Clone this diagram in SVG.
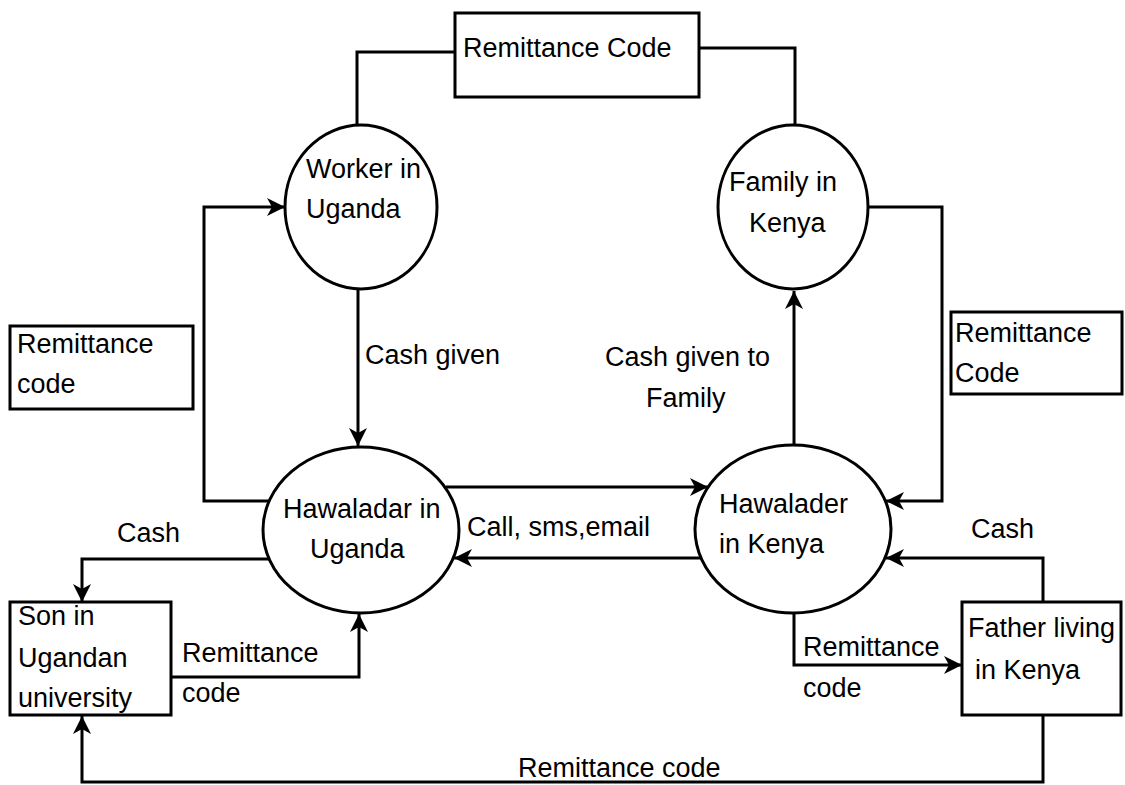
<svg xmlns="http://www.w3.org/2000/svg" width="1125" height="785" viewBox="0 0 1125 785">
<style>
.n{fill:#fff;stroke:#000;stroke-width:3}
.c{fill:none;stroke:#000;stroke-width:3;stroke-linejoin:miter}
.a{marker-end:url(#ah)}
text{font-family:"Liberation Sans",Arial,sans-serif;font-size:27px;fill:#000}
</style>
<defs>
<marker id="ah" markerUnits="userSpaceOnUse" viewBox="0 0 18 18" refX="18" refY="9" markerWidth="18" markerHeight="18" orient="auto">
<path d="M0,0 L18,9 L0,18 L5,9 Z" fill="#000"/>
</marker>
</defs>
<rect width="1125" height="785" fill="#fff"/>
<g id="connectors">
<path class="c" d="M357,125 V52 H455"/>
<path class="c" d="M699,48 H795 V125"/>
<path class="c a" d="M358,290 V446"/>
<path class="c a" d="M794,445 V291"/>
<path class="c a" d="M269,501 H204 V207 H285"/>
<path class="c a" d="M868,207 H942 V501 H886"/>
<path class="c a" d="M446,487 H708"/>
<path class="c a" d="M701,558 H454"/>
<path class="c a" d="M269,559 H82 V602"/>
<path class="c a" d="M171,677 H359 V614"/>
<path class="c a" d="M794,613 V665 H962"/>
<path class="c a" d="M1043,602 V558 H886"/>
<path class="c a" d="M1043,715 V782 H82 V716"/>
<text x="365" y="364">Cash given</text>
<text x="605" y="366">Cash given to</text>
<text x="646" y="407">Family</text>
<text x="467" y="536">Call, sms,email</text>
<text x="117" y="542">Cash</text>
<text x="182" y="662">Remittance</text>
<text x="182" y="702">code</text>
<text x="971" y="538">Cash</text>
<text x="803" y="656">Remittance</text>
<text x="803" y="697">code</text>
<text x="518" y="777">Remittance code</text>
</g>
<g id="remit-top">
<rect class="n" x="455" y="13" width="244" height="84"/>
<text x="463" y="57">Remittance Code</text>
</g>
<g id="remit-left">
<rect class="n" x="10" y="326" width="183" height="83"/>
<text x="17" y="353">Remittance</text>
<text x="17" y="393">code</text>
</g>
<g id="remit-right">
<rect class="n" x="951" y="312" width="171" height="82"/>
<text x="955" y="342">Remittance</text>
<text x="955" y="382">Code</text>
</g>
<g id="worker-uganda">
<ellipse class="n" cx="361" cy="207" rx="76" ry="82"/>
<text x="306" y="178">Worker in</text>
<text x="306" y="218">Uganda</text>
</g>
<g id="family-kenya">
<ellipse class="n" cx="793" cy="207" rx="75" ry="82"/>
<text x="729" y="191">Family in</text>
<text x="749" y="232">Kenya</text>
</g>
<g id="hawaladar-uganda">
<ellipse class="n" cx="361" cy="530" rx="98" ry="83"/>
<text x="283" y="518">Hawaladar in</text>
<text x="310" y="558">Uganda</text>
</g>
<g id="hawalader-kenya">
<ellipse class="n" cx="793" cy="529" rx="98" ry="84"/>
<text x="719" y="513">Hawalader</text>
<text x="719" y="553">in Kenya</text>
</g>
<g id="son-uganda">
<rect class="n" x="10" y="602" width="161" height="113"/>
<text x="18" y="625">Son in</text>
<text x="18" y="667">Ugandan</text>
<text x="18" y="707">university</text>
</g>
<g id="father-kenya">
<rect class="n" x="962" y="602" width="159" height="113"/>
<text x="968" y="637">Father living</text>
<text x="975" y="679">in Kenya</text>
</g>
</svg>
